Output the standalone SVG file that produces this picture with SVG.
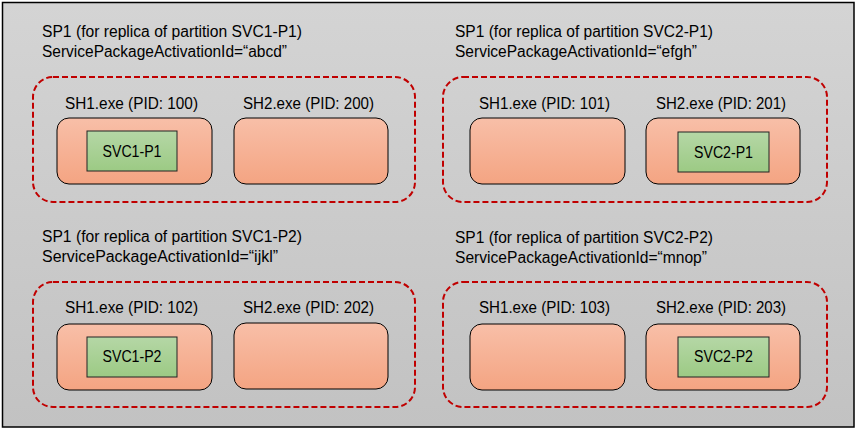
<svg xmlns="http://www.w3.org/2000/svg" width="858" height="431" viewBox="0 0 858 431">
<defs>
<linearGradient id="bg" x1="0" y1="0" x2="0" y2="1"><stop offset="0" stop-color="#d4d4d4"/><stop offset="1" stop-color="#c2c2c2"/></linearGradient>
<linearGradient id="sal" x1="0" y1="0" x2="0" y2="1"><stop offset="0" stop-color="#f8bfa8"/><stop offset="1" stop-color="#f4a482"/></linearGradient>
<linearGradient id="grn" x1="0" y1="0" x2="0" y2="1"><stop offset="0" stop-color="#b5d7a6"/><stop offset="1" stop-color="#9cca84"/></linearGradient>
</defs>
<style>
text{font-family:"Liberation Sans",Arial,sans-serif;font-size:16px;fill:#000}
.sp{fill:none;stroke:#c00000;stroke-width:2;stroke-dasharray:6 3}
.sh{fill:url(#sal);stroke:#000;stroke-width:1}
.svc{fill:url(#grn);stroke:#222;stroke-width:1}
.c{text-anchor:middle}
</style>
<rect x="2.5" y="2.5" width="851.5" height="424.5" fill="url(#bg)" stroke="#000" stroke-width="1.5"/>
<g id="connectors"/>
<g id="sp-svc1-p1">
<text x="42" y="37" textLength="260" lengthAdjust="spacingAndGlyphs">SP1 (for replica of partition SVC1-P1)</text>
<text x="42" y="57" textLength="245" lengthAdjust="spacingAndGlyphs">ServicePackageActivationId=“abcd”</text>
<rect class="sp" x="33" y="77" width="382" height="125" rx="20"/>
<g id="sh1-100"><text x="65" y="109" textLength="133" lengthAdjust="spacingAndGlyphs">SH1.exe (PID: 100)</text><rect class="sh" x="57" y="118" width="155" height="66" rx="12"/></g>
<g id="sh2-200"><text x="243" y="109" textLength="131" lengthAdjust="spacingAndGlyphs">SH2.exe (PID: 200)</text><rect class="sh" x="234" y="118" width="154" height="66" rx="12"/></g>
<g id="svc1-p1"><rect class="svc" x="87" y="131" width="90" height="40"/><text class="c" x="132" y="157" textLength="59" lengthAdjust="spacingAndGlyphs">SVC1-P1</text></g>
</g>
<g id="sp-svc2-p1">
<text x="455" y="37" textLength="258" lengthAdjust="spacingAndGlyphs">SP1 (for replica of partition SVC2-P1)</text>
<text x="455" y="57" textLength="242" lengthAdjust="spacingAndGlyphs">ServicePackageActivationId=“efgh”</text>
<rect class="sp" x="443" y="77" width="384" height="125" rx="20"/>
<g id="sh1-101"><text x="479" y="109" textLength="131" lengthAdjust="spacingAndGlyphs">SH1.exe (PID: 101)</text><rect class="sh" x="470" y="118" width="155" height="66" rx="12"/></g>
<g id="sh2-201"><text x="656" y="109" textLength="130" lengthAdjust="spacingAndGlyphs">SH2.exe (PID: 201)</text><rect class="sh" x="646" y="118" width="154" height="66" rx="12"/></g>
<g id="svc2-p1"><rect class="svc" x="678" y="132" width="91" height="40"/><text class="c" x="723.5" y="158" textLength="59" lengthAdjust="spacingAndGlyphs">SVC2-P1</text></g>
</g>
<g id="sp-svc1-p2">
<text x="42" y="242" textLength="260" lengthAdjust="spacingAndGlyphs">SP1 (for replica of partition SVC1-P2)</text>
<text x="42" y="262" textLength="236" lengthAdjust="spacingAndGlyphs">ServicePackageActivationId=“ijkl”</text>
<rect class="sp" x="33" y="282" width="382" height="125" rx="20"/>
<g id="sh1-102"><text x="65" y="313" textLength="133" lengthAdjust="spacingAndGlyphs">SH1.exe (PID: 102)</text><rect class="sh" x="57" y="324" width="155" height="66" rx="12"/></g>
<g id="sh2-202"><text x="243" y="313" textLength="131" lengthAdjust="spacingAndGlyphs">SH2.exe (PID: 202)</text><rect class="sh" x="234" y="323" width="154" height="66" rx="12"/></g>
<g id="svc1-p2"><rect class="svc" x="87" y="337" width="90" height="40"/><text class="c" x="132" y="362" textLength="59" lengthAdjust="spacingAndGlyphs">SVC1-P2</text></g>
</g>
<g id="sp-svc2-p2">
<text x="455" y="243" textLength="258" lengthAdjust="spacingAndGlyphs">SP1 (for replica of partition SVC2-P2)</text>
<text x="455" y="263" textLength="252" lengthAdjust="spacingAndGlyphs">ServicePackageActivationId=“mnop”</text>
<rect class="sp" x="443" y="282" width="384" height="125" rx="20"/>
<g id="sh1-103"><text x="479" y="313" textLength="131" lengthAdjust="spacingAndGlyphs">SH1.exe (PID: 103)</text><rect class="sh" x="470" y="324" width="155" height="66" rx="12"/></g>
<g id="sh2-203"><text x="656" y="313" textLength="130" lengthAdjust="spacingAndGlyphs">SH2.exe (PID: 203)</text><rect class="sh" x="646" y="324" width="154" height="66" rx="12"/></g>
<g id="svc2-p2"><rect class="svc" x="678" y="337" width="91" height="40"/><text class="c" x="723.5" y="362" textLength="59" lengthAdjust="spacingAndGlyphs">SVC2-P2</text></g>
</g>
</svg>
